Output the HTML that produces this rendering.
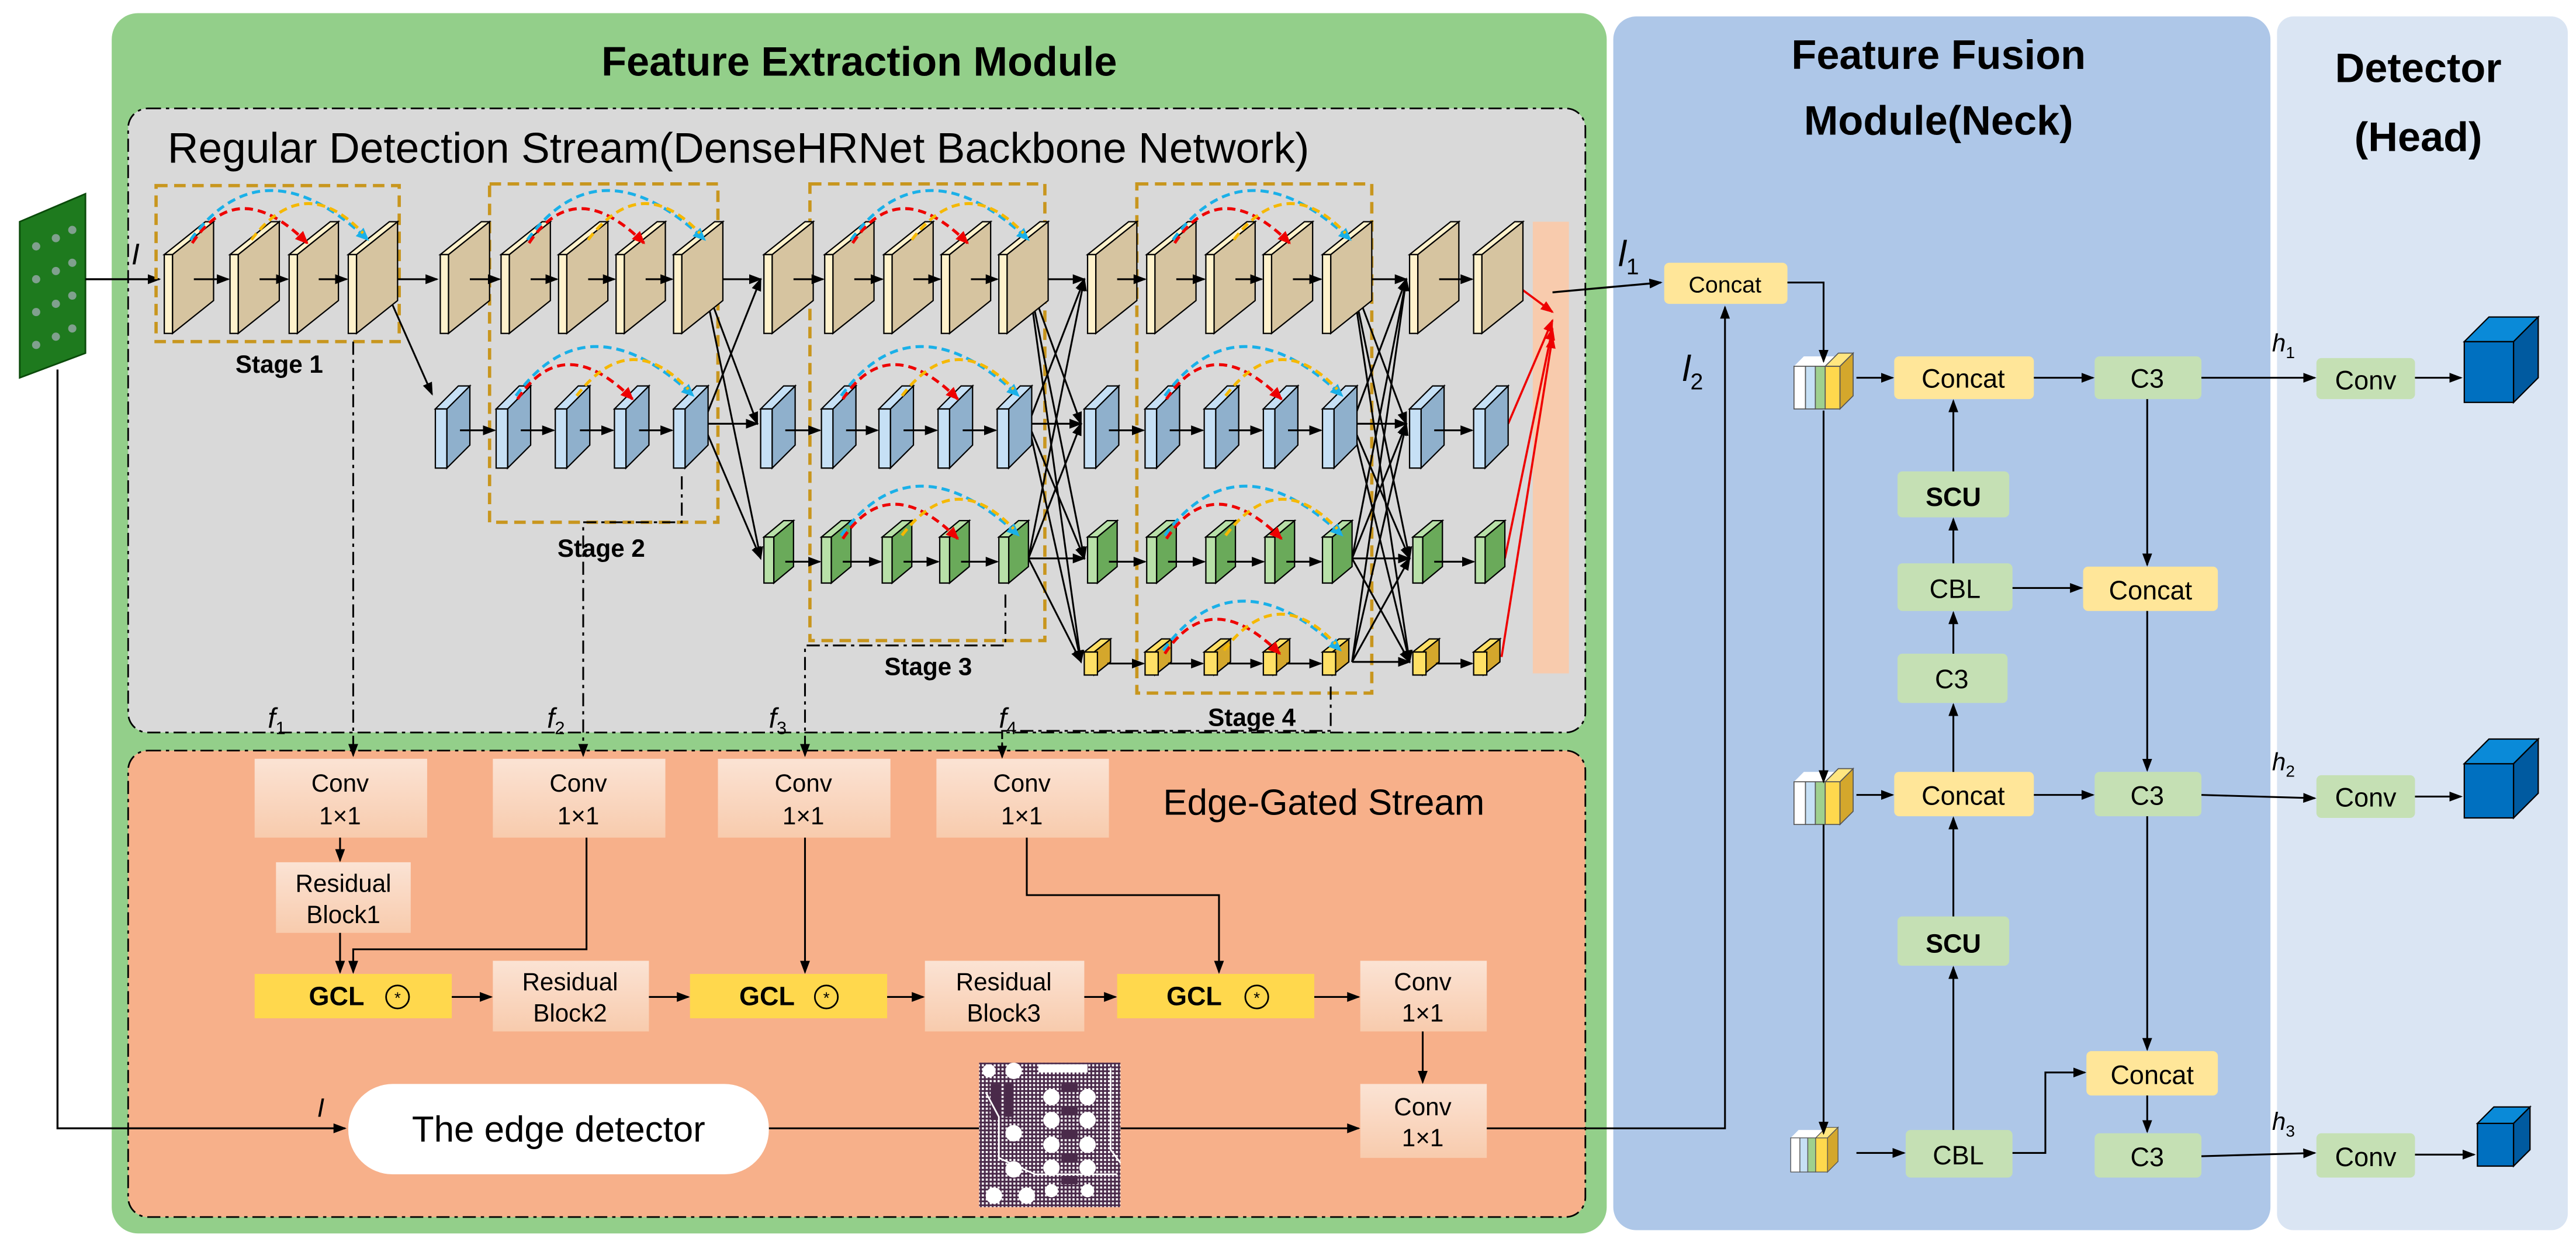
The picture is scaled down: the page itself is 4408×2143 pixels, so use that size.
<!DOCTYPE html>
<html><head><meta charset="utf-8"><style>
html,body{margin:0;padding:0;background:#fff;}
svg{display:block;}
text{font-family:"Liberation Sans",sans-serif;}
</style></head><body>
<svg width="4408" height="2143" viewBox="0 0 1568 762.3" xmlns="http://www.w3.org/2000/svg">
<defs>
<marker id="ah" markerWidth="8" markerHeight="8" refX="7" refY="4" orient="auto" markerUnits="userSpaceOnUse"><path d="M0,1 L8,4 L0,7 z" fill="#000"/></marker>
<marker id="ar" markerWidth="8" markerHeight="8" refX="7" refY="4" orient="auto" markerUnits="userSpaceOnUse"><path d="M0,1 L8,4 L0,7 z" fill="#e00"/></marker>
<marker id="arr" markerWidth="8" markerHeight="8" refX="7" refY="4" orient="auto" markerUnits="userSpaceOnUse"><path d="M0,0.5 L8,4 L0,7.5 z" fill="#e00"/></marker>
<marker id="acc" markerWidth="8" markerHeight="8" refX="7" refY="4" orient="auto" markerUnits="userSpaceOnUse"><path d="M0,0.5 L8,4 L0,7.5 z" fill="#1ab0e8"/></marker>
<g id="sT"><polygon points="5,-48 30,-68 30,-20 5,0" fill="#d6c4a0" stroke="#000" stroke-width="0.8"/><polygon points="0,-48 25,-68 30,-68 5,-48" fill="#fff2cc" stroke="#000" stroke-width="0.8"/><rect x="0" y="-48" width="5" height="48" fill="#fff2cc" stroke="#000" stroke-width="0.8"/></g>
<g id="sB"><polygon points="7,-36 21,-50 21,-14 7,0" fill="#8fb0cc" stroke="#000" stroke-width="0.8"/><polygon points="0,-36 14,-50 21,-50 7,-36" fill="#c6e0f5" stroke="#000" stroke-width="0.8"/><rect x="0" y="-36" width="7" height="36" fill="#c6e0f5" stroke="#000" stroke-width="0.8"/></g>
<g id="sG"><polygon points="6,-28 18,-38 18,-10 6,0" fill="#6aaa5a" stroke="#000" stroke-width="0.8"/><polygon points="0,-28 12,-38 18,-38 6,-28" fill="#b8e0a8" stroke="#000" stroke-width="0.8"/><rect x="0" y="-28" width="6" height="28" fill="#b8e0a8" stroke="#000" stroke-width="0.8"/></g>
<g id="sY"><polygon points="6,-14 16,-22 16,-8 6,0" fill="#d4a72c" stroke="#000" stroke-width="0.8"/><polygon points="0,-14 10,-22 16,-22 6,-14" fill="#ffe066" stroke="#000" stroke-width="0.8"/><rect x="0" y="-14" width="8" height="14" fill="#ffe066" stroke="#000" stroke-width="0.8"/></g>
<g id="arcs" fill="none" stroke-width="1.8" stroke-dasharray="5,3">
<path d="M16 146 Q60 86 124 146" stroke="#1ab0e8" marker-end="url(#acc)"/>
<path d="M17 148 Q45 106 87 148" stroke="#e00" marker-end="url(#arr)"/>
<path d="M53 146 Q85 104 121 142" stroke="#f5b800"/>
</g>
<g id="stack"><polygon points="0,6 6,0 34,0 28,6" fill="#fff"/><rect x="0" y="6" width="7" height="26" fill="#fff" stroke="#555" stroke-width="0.6"/><rect x="7" y="6" width="6" height="26" fill="#c6e0f5" stroke="#555" stroke-width="0.6"/><rect x="13" y="6" width="6" height="26" fill="#9fd08e" stroke="#555" stroke-width="0.6"/><rect x="19" y="6" width="9" height="26" fill="#ffd84d" stroke="#555" stroke-width="0.6"/><polygon points="28,6 36,-2 36,24 28,32" fill="#d4a72c" stroke="#555" stroke-width="0.6"/><polygon points="19,6 27,-2 36,-2 28,6" fill="#ffe680" stroke="#555" stroke-width="0.6"/></g>
<linearGradient id="cg" x1="0" y1="0" x2="0" y2="1"><stop offset="0" stop-color="#fbe3d4"/><stop offset="1" stop-color="#f8cbad"/></linearGradient>
<pattern id="grid" width="2.4" height="2.4" patternUnits="userSpaceOnUse"><rect width="2.4" height="2.4" fill="#4a2a4a"/><rect width="1.3" height="1.3" fill="#fff"/></pattern>
</defs>

<!-- panels -->
<rect x="68" y="8" width="910" height="743" rx="16" fill="#93cf8a"/>
<rect x="982" y="10" width="400" height="739" rx="14" fill="#aec7e8"/>
<rect x="1386" y="10" width="177" height="739" rx="10" fill="#dae5f3"/>
<text x="523" y="46" font-size="25" font-weight="bold" text-anchor="middle">Feature Extraction Module</text>
<text x="1180" y="42" font-size="25" font-weight="bold" text-anchor="middle">Feature Fusion</text>
<text x="1180" y="82" font-size="25" font-weight="bold" text-anchor="middle">Module(Neck)</text>
<text x="1472" y="50" font-size="25" font-weight="bold" text-anchor="middle">Detector</text>
<text x="1472" y="92" font-size="25" font-weight="bold" text-anchor="middle">(Head)</text>

<rect x="78" y="66" width="887" height="380" rx="12" fill="#d9d9d9" stroke="#000" stroke-width="1" stroke-dasharray="8,3,2,3"/>
<rect x="78" y="457" width="887" height="284" rx="12" fill="#f7b08a" stroke="#000" stroke-width="1" stroke-dasharray="8,3,2,3"/>
<text x="102" y="99" font-size="26">Regular Detection Stream(DenseHRNet Backbone Network)</text>
<text x="708" y="496" font-size="22">Edge-Gated Stream</text>

<!-- input pcb -->
<polygon points="12,135 52,118 52,215 12,230" fill="#1e7a1e" stroke="#0a4a0a"/>
<g fill="#9aa" opacity="0.8"><circle cx="22" cy="150" r="2.5"/><circle cx="34" cy="145" r="2.5"/><circle cx="44" cy="140" r="2.5"/><circle cx="22" cy="170" r="2.5"/><circle cx="34" cy="165" r="2.5"/><circle cx="44" cy="160" r="2.5"/><circle cx="22" cy="190" r="2.5"/><circle cx="34" cy="185" r="2.5"/><circle cx="44" cy="180" r="2.5"/><circle cx="22" cy="210" r="2.5"/><circle cx="34" cy="205" r="2.5"/><circle cx="44" cy="200" r="2.5"/></g>
<line x1="52" y1="170" x2="97" y2="170" stroke="#000" stroke-width="1.2" marker-end="url(#ah)"/>
<text x="80" y="161" font-size="18" font-style="italic" font-family="Liberation Serif">I</text>
<polyline points="35,225 35,687 210,687" fill="none" stroke="#000" stroke-width="1.2" marker-end="url(#ah)"/>
<text x="193" y="680" font-size="16" font-style="italic" font-family="Liberation Serif">I</text>

<!-- peach bar -->
<rect x="933" y="135" width="22" height="275" fill="#f8cbad"/>

<!-- stage boxes -->
<g fill="none" stroke="#c8961e" stroke-width="2" stroke-dasharray="7,4">
<rect x="95" y="113" width="148" height="95"/>
<rect x="298" y="112" width="139" height="206"/>
<rect x="493" y="112" width="143" height="278"/>
<rect x="692" y="112" width="143" height="310"/>
</g>
<g font-size="15" font-weight="bold" text-anchor="middle">
<text x="170" y="227">Stage 1</text><text x="366" y="339">Stage 2</text><text x="565" y="411">Stage 3</text><text x="762" y="442">Stage 4</text>
</g>

<!-- cross connections -->
<g stroke="#000" stroke-width="1.1" marker-end="url(#ah)">
<line x1="232" y1="170" x2="266" y2="170"/><line x1="232" y1="170" x2="263" y2="240"/>
<line x1="428" y1="170" x2="463" y2="170"/><line x1="428" y1="170" x2="461" y2="258"/><line x1="428" y1="170" x2="463" y2="340"/>
<line x1="428" y1="258" x2="463" y2="170"/><line x1="428" y1="258" x2="461" y2="258"/><line x1="428" y1="258" x2="463" y2="340"/>
<g>
<line x1="626" y1="170" x2="660" y2="170"/><line x1="626" y1="170" x2="658" y2="258"/><line x1="626" y1="170" x2="660" y2="340"/><line x1="626" y1="170" x2="658" y2="403"/>
<line x1="626" y1="258" x2="660" y2="170"/><line x1="626" y1="258" x2="658" y2="258"/><line x1="626" y1="258" x2="660" y2="340"/><line x1="626" y1="258" x2="658" y2="403"/>
<line x1="626" y1="340" x2="660" y2="170"/><line x1="626" y1="340" x2="658" y2="258"/><line x1="626" y1="340" x2="660" y2="340"/><line x1="626" y1="340" x2="658" y2="403"/>
</g>
<g>
<line x1="823" y1="170" x2="856" y2="170"/><line x1="823" y1="170" x2="856" y2="258"/><line x1="823" y1="170" x2="858" y2="340"/><line x1="823" y1="170" x2="858" y2="403"/>
<line x1="823" y1="258" x2="856" y2="170"/><line x1="823" y1="258" x2="856" y2="258"/><line x1="823" y1="258" x2="858" y2="340"/><line x1="823" y1="258" x2="858" y2="403"/>
<line x1="823" y1="340" x2="856" y2="170"/><line x1="823" y1="340" x2="856" y2="258"/><line x1="823" y1="340" x2="858" y2="340"/><line x1="823" y1="340" x2="858" y2="403"/>
<line x1="823" y1="403" x2="856" y2="170"/><line x1="823" y1="403" x2="856" y2="258"/><line x1="823" y1="403" x2="858" y2="340"/><line x1="823" y1="403" x2="858" y2="403"/>
</g>
</g>
<g stroke="#e00" stroke-width="1.3" marker-end="url(#ar)">
<line x1="918" y1="170" x2="945" y2="190"/><line x1="918" y1="258" x2="945" y2="195"/><line x1="916" y1="340" x2="945" y2="200"/><line x1="914" y1="400" x2="945" y2="205"/>
</g>
<line x1="945" y1="178" x2="1011" y2="172" stroke="#000" stroke-width="1.2" marker-end="url(#ah)"/>

<!-- slabs -->
<g transform="translate(0,203)">
<use href="#sT" x="100"/><use href="#sT" x="140"/><use href="#sT" x="176"/><use href="#sT" x="212"/>
<use href="#sT" x="268"/><use href="#sT" x="305"/><use href="#sT" x="340"/><use href="#sT" x="375"/><use href="#sT" x="410"/>
<use href="#sT" x="465"/><use href="#sT" x="502"/><use href="#sT" x="538"/><use href="#sT" x="573"/><use href="#sT" x="608"/>
<use href="#sT" x="662"/><use href="#sT" x="698"/><use href="#sT" x="734"/><use href="#sT" x="769"/><use href="#sT" x="805"/>
<use href="#sT" x="858"/><use href="#sT" x="897"/>
</g>
<g transform="translate(0,285)">
<use href="#sB" x="265"/><use href="#sB" x="302"/><use href="#sB" x="338"/><use href="#sB" x="374"/><use href="#sB" x="410"/>
<use href="#sB" x="463"/><use href="#sB" x="500"/><use href="#sB" x="535"/><use href="#sB" x="571"/><use href="#sB" x="607"/>
<use href="#sB" x="660"/><use href="#sB" x="697"/><use href="#sB" x="733"/><use href="#sB" x="769"/><use href="#sB" x="805"/>
<use href="#sB" x="858"/><use href="#sB" x="897"/>
</g>
<g transform="translate(0,355)">
<use href="#sG" x="465"/><use href="#sG" x="500"/><use href="#sG" x="537"/><use href="#sG" x="572"/><use href="#sG" x="608"/>
<use href="#sG" x="662"/><use href="#sG" x="698"/><use href="#sG" x="734"/><use href="#sG" x="770"/><use href="#sG" x="805"/>
<use href="#sG" x="860"/><use href="#sG" x="898"/>
</g>
<g transform="translate(0,411)">
<use href="#sY" x="660"/><use href="#sY" x="697"/><use href="#sY" x="733"/><use href="#sY" x="769"/><use href="#sY" x="805"/>
<use href="#sY" x="860"/><use href="#sY" x="897"/>
</g>

<!-- short arrows within rows -->
<g stroke="#000" stroke-width="1.1" marker-end="url(#ah)">
<line x1="118" y1="170" x2="139" y2="170"/><line x1="158" y1="170" x2="175" y2="170"/><line x1="194" y1="170" x2="211" y2="170"/>
<line x1="286" y1="170" x2="304" y2="170"/><line x1="323" y1="170" x2="339" y2="170"/><line x1="358" y1="170" x2="374" y2="170"/><line x1="393" y1="170" x2="409" y2="170"/>
<line x1="483" y1="170" x2="501" y2="170"/><line x1="520" y1="170" x2="537" y2="170"/><line x1="556" y1="170" x2="572" y2="170"/><line x1="591" y1="170" x2="607" y2="170"/>
<line x1="680" y1="170" x2="697" y2="170"/><line x1="716" y1="170" x2="733" y2="170"/><line x1="752" y1="170" x2="768" y2="170"/><line x1="787" y1="170" x2="804" y2="170"/>
<line x1="876" y1="170" x2="896" y2="170"/>
<line x1="280" y1="262" x2="301" y2="262"/><line x1="317" y1="262" x2="337" y2="262"/><line x1="353" y1="262" x2="373" y2="262"/><line x1="389" y1="262" x2="409" y2="262"/>
<line x1="478" y1="262" x2="499" y2="262"/><line x1="515" y1="262" x2="534" y2="262"/><line x1="550" y1="262" x2="570" y2="262"/><line x1="586" y1="262" x2="606" y2="262"/>
<line x1="675" y1="262" x2="696" y2="262"/><line x1="712" y1="262" x2="732" y2="262"/><line x1="748" y1="262" x2="768" y2="262"/><line x1="784" y1="262" x2="804" y2="262"/>
<line x1="873" y1="262" x2="896" y2="262"/>
<line x1="478" y1="342" x2="499" y2="342"/><line x1="513" y1="342" x2="536" y2="342"/><line x1="550" y1="342" x2="571" y2="342"/><line x1="585" y1="342" x2="607" y2="342"/>
<line x1="675" y1="342" x2="697" y2="342"/><line x1="711" y1="342" x2="733" y2="342"/><line x1="747" y1="342" x2="769" y2="342"/><line x1="783" y1="342" x2="804" y2="342"/>
<line x1="873" y1="342" x2="897" y2="342"/>
<line x1="674" y1="404" x2="696" y2="404"/><line x1="711" y1="404" x2="732" y2="404"/><line x1="747" y1="404" x2="768" y2="404"/><line x1="783" y1="404" x2="804" y2="404"/>
<line x1="874" y1="404" x2="896" y2="404"/>
</g>

<!-- dense arcs -->
<use href="#arcs" x="100" y="0"/><use href="#arcs" x="305" y="0"/><use href="#arcs" x="502" y="0"/><use href="#arcs" x="698" y="0"/>
<use href="#arcs" x="298" y="95"/><use href="#arcs" x="496" y="95"/><use href="#arcs" x="693" y="95"/>
<use href="#arcs" x="496" y="180"/><use href="#arcs" x="693" y="180"/>
<use href="#arcs" x="692" y="250"/>

<!-- dash-dot feature lines -->
<g fill="none" stroke="#000" stroke-width="1.1" stroke-dasharray="8,3,2,3">
<polyline points="215,208 215,460" marker-end="url(#ah)"/>
<polyline points="415,290 415,318 355,318 355,460" marker-end="url(#ah)"/>
<polyline points="612,362 612,393 490,393 490,460" marker-end="url(#ah)"/>
<polyline points="810,418 810,445 610,445 610,460"/>
</g>
<line x1="610" y1="452" x2="610" y2="461" stroke="#000" marker-end="url(#ah)"/>
<g font-size="17" font-style="italic" font-family="Liberation Serif">
<text x="163" y="443">f<tspan font-size="11" dy="4" font-style="normal">1</tspan></text>
<text x="333" y="443">f<tspan font-size="11" dy="4" font-style="normal">2</tspan></text>
<text x="468" y="443">f<tspan font-size="11" dy="4" font-style="normal">3</tspan></text>
<text x="608" y="443">f<tspan font-size="11" dy="4" font-style="normal">4</tspan></text>
</g>

<!-- edge stream boxes -->
<g fill="url(#cg)">
<rect x="155" y="462" width="105" height="48"/><rect x="300" y="462" width="105" height="48"/><rect x="437" y="462" width="105" height="48"/><rect x="570" y="462" width="105" height="48"/>
<rect x="168" y="525" width="82" height="43"/><rect x="300" y="585" width="95" height="43"/><rect x="563" y="585" width="97" height="43"/>
<rect x="828" y="585" width="77" height="43"/><rect x="828" y="660" width="77" height="45"/>
</g>
<g font-size="15" text-anchor="middle">
<text x="207" y="482">Conv</text><text x="207" y="502">1×1</text>
<text x="352" y="482">Conv</text><text x="352" y="502">1×1</text>
<text x="489" y="482">Conv</text><text x="489" y="502">1×1</text>
<text x="622" y="482">Conv</text><text x="622" y="502">1×1</text>
<text x="209" y="543">Residual</text><text x="209" y="562">Block1</text>
<text x="347" y="603">Residual</text><text x="347" y="622">Block2</text>
<text x="611" y="603">Residual</text><text x="611" y="622">Block3</text>
<text x="866" y="603">Conv</text><text x="866" y="622">1×1</text>
<text x="866" y="679">Conv</text><text x="866" y="698">1×1</text>
</g>
<g fill="#ffd84d"><rect x="155" y="593" width="120" height="27"/><rect x="420" y="593" width="120" height="27"/><rect x="680" y="593" width="120" height="27"/></g>
<g font-size="16" font-weight="bold" font-family="Liberation Serif"><text x="188" y="612">GCL</text><text x="450" y="612">GCL</text><text x="710" y="612">GCL</text></g>
<g fill="none" stroke="#000" stroke-width="1"><circle cx="242" cy="607" r="7"/><circle cx="503" cy="607" r="7"/><circle cx="765" cy="607" r="7"/></g>
<g font-size="10" text-anchor="middle"><text x="242" y="611">*</text><text x="503" y="611">*</text><text x="765" y="611">*</text></g>

<g stroke="#000" stroke-width="1.1" fill="none" marker-end="url(#ah)">
<line x1="207" y1="510" x2="207" y2="524"/><line x1="207" y1="568" x2="207" y2="592"/>
<polyline points="357,510 357,578 215,578 215,592"/>
<line x1="275" y1="607" x2="299" y2="607"/><line x1="395" y1="607" x2="419" y2="607"/><line x1="540" y1="607" x2="562" y2="607"/><line x1="660" y1="607" x2="679" y2="607"/><line x1="800" y1="607" x2="827" y2="607"/>
<line x1="490" y1="510" x2="490" y2="592"/>
<polyline points="625,510 625,545 742,545 742,592"/>
<line x1="866" y1="628" x2="866" y2="659"/>
<line x1="468" y1="687" x2="827" y2="687"/>
<polyline points="905,687 1050,687 1050,187"/>
</g>

<!-- edge detector -->
<rect x="212" y="660" width="256" height="55" rx="27" fill="#fff"/>
<text x="340" y="695" font-size="22" text-anchor="middle">The edge detector</text>
<!-- edge image -->
<g>
<rect x="596" y="647" width="86" height="88" fill="url(#grid)"/>
<g fill="#fff">
<circle cx="602" cy="652" r="4"/><circle cx="617" cy="652" r="5"/><circle cx="640" cy="668" r="5"/><circle cx="640" cy="682" r="5"/><circle cx="640" cy="697" r="5"/><circle cx="640" cy="711" r="5"/><circle cx="640" cy="725" r="4"/>
<circle cx="662" cy="668" r="5"/><circle cx="662" cy="682" r="5"/><circle cx="662" cy="697" r="5"/><circle cx="662" cy="711" r="5"/><circle cx="662" cy="725" r="4"/>
<circle cx="617" cy="690" r="5"/><circle cx="617" cy="712" r="5"/><circle cx="605" cy="728" r="5"/><circle cx="625" cy="728" r="5"/>
<rect x="632" y="648" width="30" height="5"/>
</g>
<g fill="#4a2a4a"><rect x="646" y="660" width="10" height="5"/><rect x="646" y="674" width="10" height="5"/><rect x="646" y="688" width="10" height="5"/><rect x="646" y="702" width="10" height="5"/><rect x="646" y="716" width="10" height="5"/><rect x="603" y="660" width="6" height="22"/><rect x="612" y="660" width="5" height="20"/></g>
<g stroke="#fff" stroke-width="1" fill="none"><polyline points="600,665 608,680 608,705 630,715 680,715"/><polyline points="676,650 676,700 682,708"/></g>
</g>

<!-- neck -->
<g fill="#ffe699">
<rect x="1013" y="160" width="75" height="25" rx="3"/><rect x="1153" y="217" width="85" height="26" rx="3"/><rect x="1268" y="345" width="82" height="27" rx="3"/>
<rect x="1153" y="470" width="85" height="27" rx="3"/><rect x="1270" y="640" width="80" height="27" rx="3"/>
</g>
<g fill="#c5e0b4">
<rect x="1275" y="217" width="65" height="26" rx="3"/><rect x="1155" y="287" width="68" height="28" rx="3"/><rect x="1155" y="343" width="70" height="29" rx="3"/><rect x="1155" y="398" width="67" height="30" rx="3"/>
<rect x="1275" y="470" width="65" height="27" rx="3"/><rect x="1155" y="558" width="68" height="30" rx="3"/><rect x="1275" y="690" width="65" height="27" rx="3"/><rect x="1160" y="688" width="65" height="29" rx="3"/>
<rect x="1410" y="218" width="60" height="25" rx="3"/><rect x="1410" y="472" width="60" height="26" rx="3"/><rect x="1410" y="690" width="60" height="27" rx="3"/>
</g>
<g font-size="16" text-anchor="middle">
<text x="1050" y="178" font-size="14">Concat</text><text x="1195" y="236">Concat</text><text x="1307" y="236">C3</text>
<text x="1189" y="308" font-weight="bold">SCU</text><text x="1190" y="364">CBL</text><text x="1309" y="365">Concat</text><text x="1188" y="419">C3</text>
<text x="1195" y="490">Concat</text><text x="1307" y="490">C3</text><text x="1189" y="580" font-weight="bold">SCU</text>
<text x="1310" y="660">Concat</text><text x="1307" y="710">C3</text><text x="1192" y="709">CBL</text>
<text x="1440" y="237">Conv</text><text x="1440" y="491">Conv</text><text x="1440" y="710">Conv</text>
</g>
<use href="#stack" x="1092" y="217"/><use href="#stack" x="1092" y="470"/><use href="#stack" x="1090" y="688" transform="translate(1090,688) scale(0.8) translate(-1090,-688)"/>

<g stroke="#000" stroke-width="1.1" fill="none" marker-end="url(#ah)">
<polyline points="1088,172 1110,172 1110,220"/>
<polyline points="1110,250 1110,476"/>
<polyline points="1110,502 1110,690"/>
<line x1="1130" y1="230" x2="1152" y2="230"/><line x1="1238" y1="230" x2="1274" y2="230"/><line x1="1340" y1="230" x2="1409" y2="230"/>
<line x1="1189" y1="287" x2="1189" y2="244"/><line x1="1189" y1="343" x2="1189" y2="316"/><line x1="1189" y1="398" x2="1189" y2="373"/>
<line x1="1225" y1="358" x2="1267" y2="358"/><line x1="1307" y1="243" x2="1307" y2="344"/><line x1="1307" y1="372" x2="1307" y2="469"/>
<line x1="1130" y1="484" x2="1152" y2="484"/><line x1="1238" y1="484" x2="1274" y2="484"/><line x1="1340" y1="484" x2="1409" y2="486"/>
<line x1="1189" y1="470" x2="1189" y2="429"/><line x1="1189" y1="558" x2="1189" y2="498"/><line x1="1189" y1="688" x2="1189" y2="589"/>
<line x1="1307" y1="497" x2="1307" y2="639"/><line x1="1307" y1="667" x2="1307" y2="689"/>
<polyline points="1225,702 1245,702 1245,653 1269,653"/>
<line x1="1130" y1="702" x2="1159" y2="702"/><line x1="1340" y1="704" x2="1409" y2="702"/>
<line x1="1470" y1="230" x2="1498" y2="230"/><line x1="1470" y1="485" x2="1498" y2="485"/><line x1="1470" y1="703" x2="1506" y2="703"/>
</g>
<g font-family="Liberation Serif" font-style="italic">
<text x="985" y="162" font-size="22">l<tspan font-size="14" dy="5" font-style="normal">1</tspan></text>
<text x="1024" y="232" font-size="22">l<tspan font-size="14" dy="5" font-style="normal">2</tspan></text>
<text x="1383" y="214" font-size="15">h<tspan font-size="10" dy="4" font-style="normal">1</tspan></text>
<text x="1383" y="469" font-size="15">h<tspan font-size="10" dy="4" font-style="normal">2</tspan></text>
<text x="1383" y="688" font-size="15">h<tspan font-size="10" dy="4" font-style="normal">3</tspan></text>
</g>
<!-- cubes -->
<g stroke="#000" stroke-width="0.8">
<rect x="1500" y="208" width="30" height="37" fill="#0070c0"/><polygon points="1500,208 1515,193 1545,193 1530,208" fill="#0a8ad8"/><polygon points="1530,208 1545,193 1545,230 1530,245" fill="#005aa0"/>
<rect x="1500" y="465" width="30" height="33" fill="#0070c0"/><polygon points="1500,465 1515,450 1545,450 1530,465" fill="#0a8ad8"/><polygon points="1530,465 1545,450 1545,483 1530,498" fill="#005aa0"/>
<rect x="1508" y="684" width="22" height="26" fill="#0070c0"/><polygon points="1508,684 1518,674 1540,674 1530,684" fill="#0a8ad8"/><polygon points="1530,684 1540,674 1540,700 1530,710" fill="#005aa0"/>
</g>
</svg>
</body></html>
